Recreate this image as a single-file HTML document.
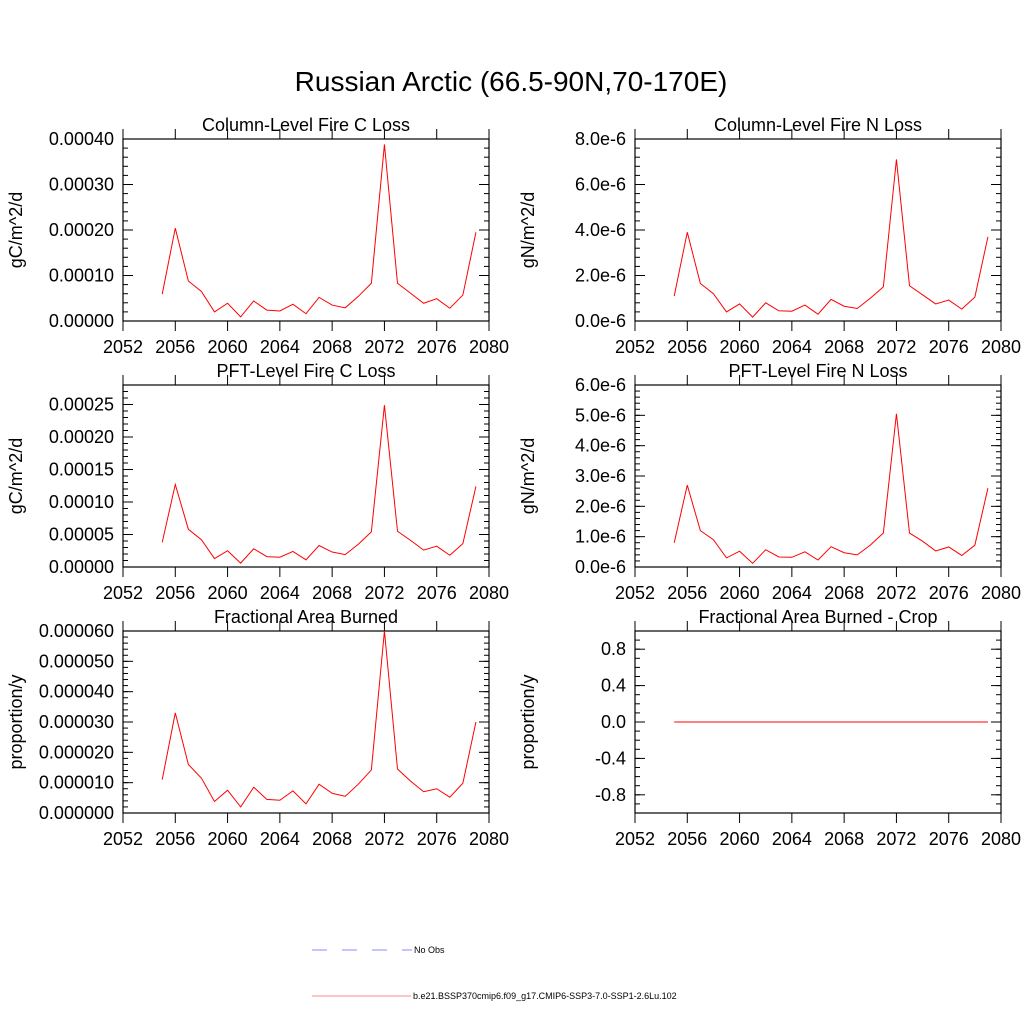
<!DOCTYPE html>
<html><head><meta charset="utf-8"><style>
body{margin:0;background:#fff;}
svg text{font-family:"Liberation Sans",Arial,sans-serif;fill:#000;}
</style></head><body>
<svg id="fig" width="1024" height="1024" viewBox="0 0 1024 1024" xmlns="http://www.w3.org/2000/svg">
<text x="511" y="91" font-size="28" text-anchor="middle">Russian Arctic (66.5-90N,70-170E)</text>
<g>
<line x1="312" y1="950" x2="412" y2="950" stroke="#8888ff" stroke-width="1" stroke-dasharray="15,15"/>
<text x="414" y="953" font-size="9">No Obs</text>
<line x1="312" y1="996" x2="411" y2="996" stroke="#ff8888" stroke-width="1"/>
<text x="413" y="999" font-size="9">b.e21.BSSP370cmip6.f09_g17.CMIP6-SSP3-7.0-SSP1-2.6Lu.102</text>
</g>
</svg>
<script>
const years=[2055,2056,2057,2058,2059,2060,2061,2062,2063,2064,2065,2066,2067,2068,2069,2070,2071,2072,2073,2074,2075,2076,2077,2078,2079];
const colC=[0.59e-4,2.04e-4,0.88e-4,0.65e-4,0.20e-4,0.39e-4,0.09e-4,0.44e-4,0.24e-4,0.22e-4,0.37e-4,0.16e-4,0.52e-4,0.35e-4,0.29e-4,0.54e-4,0.83e-4,3.88e-4,0.83e-4,0.61e-4,0.39e-4,0.49e-4,0.28e-4,0.57e-4,1.95e-4];
const colN=[1.1e-6,3.9e-6,1.65e-6,1.2e-6,0.4e-6,0.75e-6,0.17e-6,0.8e-6,0.45e-6,0.43e-6,0.7e-6,0.3e-6,0.95e-6,0.65e-6,0.55e-6,1.0e-6,1.5e-6,7.1e-6,1.55e-6,1.15e-6,0.75e-6,0.92e-6,0.52e-6,1.05e-6,3.7e-6];
const pftC=[0.38e-4,1.27e-4,0.58e-4,0.42e-4,0.13e-4,0.25e-4,0.06e-4,0.28e-4,0.16e-4,0.15e-4,0.24e-4,0.11e-4,0.33e-4,0.23e-4,0.19e-4,0.35e-4,0.54e-4,2.49e-4,0.55e-4,0.41e-4,0.26e-4,0.32e-4,0.18e-4,0.36e-4,1.24e-4];
const pftN=[0.8e-6,2.7e-6,1.2e-6,0.9e-6,0.3e-6,0.52e-6,0.12e-6,0.57e-6,0.33e-6,0.32e-6,0.5e-6,0.23e-6,0.67e-6,0.47e-6,0.4e-6,0.72e-6,1.12e-6,5.05e-6,1.12e-6,0.85e-6,0.53e-6,0.66e-6,0.38e-6,0.72e-6,2.6e-6];
const area=[1.1e-5,3.3e-5,1.6e-5,1.15e-5,0.38e-5,0.75e-5,0.2e-5,0.85e-5,0.45e-5,0.42e-5,0.73e-5,0.3e-5,0.95e-5,0.65e-5,0.55e-5,0.95e-5,1.42e-5,6.0e-5,1.45e-5,1.05e-5,0.7e-5,0.8e-5,0.52e-5,0.98e-5,3.0e-5];
const crop=[0,0,0,0,0,0,0,0,0,0,0,0,0,0,0,0,0,0,0,0,0,0,0,0,0];
const xTicks=[2052,2056,2060,2064,2068,2072,2076,2080];
const ticksColC=[0,0.0001,0.0002,0.0003,0.0004], labColC=["0.00000","0.00010","0.00020","0.00030","0.00040"];
const ticksColN=[0,2e-6,4e-6,6e-6,8e-6], labColN=["0.0e-6","2.0e-6","4.0e-6","6.0e-6","8.0e-6"];
const ticksPftC=[0,5e-5,1e-4,1.5e-4,2e-4,2.5e-4], labPftC=["0.00000","0.00005","0.00010","0.00015","0.00020","0.00025"];
const ticksPftN=[0,1e-6,2e-6,3e-6,4e-6,5e-6,6e-6], labPftN=["0.0e-6","1.0e-6","2.0e-6","3.0e-6","4.0e-6","5.0e-6","6.0e-6"];
const ticksArea=[0,1e-5,2e-5,3e-5,4e-5,5e-5,6e-5], labArea=["0.000000","0.000010","0.000020","0.000030","0.000040","0.000050","0.000060"];
const ticksCrop=[-0.8,-0.4,0,0.4,0.8], labCrop=["-0.8","-0.4","0.0","0.4","0.8"];
const NS="http://www.w3.org/2000/svg";
const fig=document.getElementById('fig');
function mk(tag,attrs,parent){const e=document.createElementNS(NS,tag);for(const k in attrs)e.setAttribute(k,attrs[k]);parent.appendChild(e);return e;}
function panel(name,x0,y0,title,ytitle,ymin,ymax,ticks,labs,minorStep,data){
 const w=366,h=182,x1=x0+w,y1=y0+h;
 const g=mk('g',{},fig);
 
 
 const X=v=>x0+(v-2052)/(2080-2052)*w;
 const Y=v=>y1-(v-ymin)/(ymax-ymin)*h;
 const t=mk('text',{x:x0+w/2,y:y0-8,'font-size':18,'text-anchor':'middle'},g);t.textContent=title;
 
 
 const yt=mk('text',{x:0,y:0,'font-size':18,'text-anchor':'middle',transform:`translate(${x0-101},${y0+h/2}) rotate(-90)`},g);yt.textContent=ytitle;
 
 
 const b=mk('rect',{x:x0,y:y0,width:w,height:h,fill:'none',stroke:'#000','stroke-width':1.2},g);
 
 
 xTicks.forEach(v=>{const px=X(v);
  mk('line',{x1:px,y1:y1,x2:px,y2:y1+10,stroke:'#000'},g);
  mk('line',{x1:px,y1:y0,x2:px,y2:y0-10,stroke:'#000'},g);
  const l=mk('text',{x:px,y:y1+32,'font-size':18,'text-anchor':'middle'},g);l.textContent=v;
  
  });
 for(let v=ymin;v<=ymax+1e-12;v+=minorStep){const py=Y(v);
  mk('line',{x1:x0,y1:py,x2:x0+5,y2:py,stroke:'#000'},g);
  mk('line',{x1:x1,y1:py,x2:x1-5,y2:py,stroke:'#000'},g);}
 ticks.forEach((v,i)=>{const py=Y(v);
  mk('line',{x1:x0,y1:py,x2:x0+10,y2:py,stroke:'#000'},g);
  mk('line',{x1:x1,y1:py,x2:x1-10,y2:py,stroke:'#000'},g);
  const l=mk('text',{x:x0-9,y:py+6,'font-size':18,'text-anchor':'end'},g);l.textContent=labs[i];
  
  });
 const pl=mk('polyline',{points:years.map((yr,i)=>X(yr)+','+Y(data[i])).join(' '),fill:'none',stroke:'#ff0000','stroke-width':1},g);
 
 
}
panel('column-fire-c-loss',123,139,'Column-Level Fire C Loss','gC/m^2/d',0,0.0004,ticksColC,labColC,0.00002,colC);
panel('column-fire-n-loss',635,139,'Column-Level Fire N Loss','gN/m^2/d',0,8e-6,ticksColN,labColN,0.4e-6,colN);
panel('pft-fire-c-loss',123,385,'PFT-Level Fire C Loss','gC/m^2/d',0,0.00028,ticksPftC,labPftC,0.00001,pftC);
panel('pft-fire-n-loss',635,385,'PFT-Level Fire N Loss','gN/m^2/d',0,6e-6,ticksPftN,labPftN,0.2e-6,pftN);
panel('fractional-area-burned',123,631,'Fractional Area Burned','proportion/y',0,6e-5,ticksArea,labArea,0.2e-5,area);
panel('fractional-area-burned-crop',635,631,'Fractional Area Burned - Crop','proportion/y',-1,1,ticksCrop,labCrop,0.1,crop);
</script>
</body></html>
